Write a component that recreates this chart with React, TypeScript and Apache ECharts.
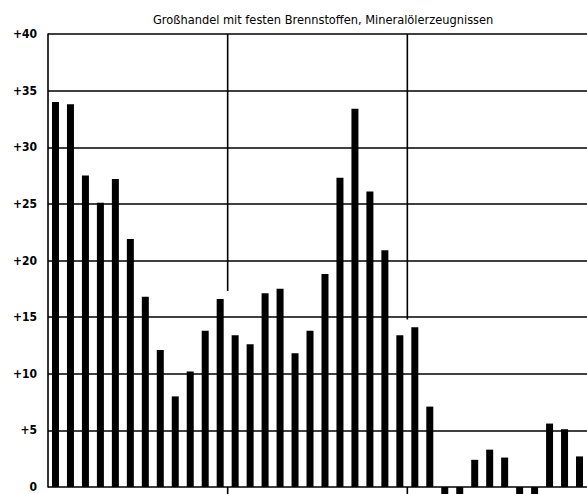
import React, { useEffect, useRef } from "react";
import * as echarts from "echarts";

const titleText = "Großhandel mit festen Brennstoffen, Mineralölerzeugnissen";

const months = [
  "J1", "F1", "M1", "A1", "M1b", "J1b", "J1c", "A1b", "S1", "O1", "N1", "D1",
  "J2", "F2", "M2", "A2", "M2b", "J2b", "J2c", "A2b", "S2", "O2", "N2", "D2",
  "J3", "F3", "M3", "A3", "M3b", "J3b", "J3c", "A3b", "S3", "O3", "N3", "D3",
];

const values = [
  34.0, 33.8, 27.5, 25.1, 27.2, 21.9, 16.8, 12.1, 8.0, 10.2, 13.8, 16.6,
  13.4, 12.6, 17.1, 17.5, 11.8, 13.8, 18.8, 27.3, 33.4, 26.1, 20.9, 13.4,
  14.1, 7.1, -0.9, -0.9, 2.4, 3.3, 2.6, -0.9, -0.9, 5.6, 5.1, 2.7,
];

const yTicks = [0, 5, 10, 15, 20, 25, 30, 35, 40];

// year divider lines (position in months, top value, bottom value of visible part)
const dividerPositions = [12, 24];
const dividerLower = [17.3, 14.8];

export default function App() {
  const ref = useRef<HTMLDivElement>(null);
  useEffect(() => {
    if (!ref.current) return;
    const chart = echarts.init(ref.current, null, { renderer: "svg" });
    const font = "'Liberation Sans Narrow', 'DejaVu Sans Condensed', 'Liberation Sans', sans-serif";
    const dividerSeries: any[] = [];
    dividerPositions.forEach((p, i) => {
      dividerSeries.push({
        type: "line",
        xAxisIndex: 1,
        yAxisIndex: 0,
        data: [[p, 40], [p, dividerLower[i]]],
        symbol: "none",
        clip: false,
        lineStyle: { color: "#000", width: 1.6 },
        silent: true,
      });
      dividerSeries.push({
        type: "line",
        xAxisIndex: 1,
        yAxisIndex: 0,
        data: [[p, 0], [p, -0.8]],
        symbol: "none",
        clip: false,
        lineStyle: { color: "#000", width: 1.6 },
        silent: true,
      });
    });
    chart.setOption({
      animation: false,
      backgroundColor: "#fff",
      title: {
        text: titleText,
        left: 148,
        top: 8,
        textStyle: { fontFamily: font, fontSize: 12.7, fontWeight: "normal", color: "#000" },
      },
      grid: { left: 48, top: 34, width: 543, height: 453 },
      xAxis: [
        {
          type: "category",
          data: months,
          axisLine: { show: false },
          axisTick: { show: false },
          axisLabel: { show: false },
          splitLine: { show: false },
        },
        {
          type: "value",
          min: 0,
          max: 36,
          show: false,
        },
      ],
      yAxis: {
        type: "value",
        min: 0,
        max: 40,
        interval: 5,
        axisLine: { show: true, lineStyle: { color: "#000", width: 1.6 } },
        axisTick: { show: false },
        axisLabel: {
          margin: 11,
          color: "#000",
          fontFamily: font,
          fontSize: 12,
          fontWeight: "bold",
          formatter: (v: number) => (yTicks.includes(v) ? (v === 0 ? "0" : "+" + v) : ""),
        },
        splitLine: { show: true, lineStyle: { color: "#000", width: 1.5 } },
      },
      series: [
        {
          type: "bar",
          data: values,
          barWidth: 7,
          clip: false,
          itemStyle: { color: "#000" },
        },
        ...dividerSeries,
      ],
    });
    return () => chart.dispose();
  }, []);
  return (
    <div
      ref={ref}
      style={{ position: "fixed", left: 0, top: 0, width: 587, height: 494, background: "#fff" }}
    />
  );
}
